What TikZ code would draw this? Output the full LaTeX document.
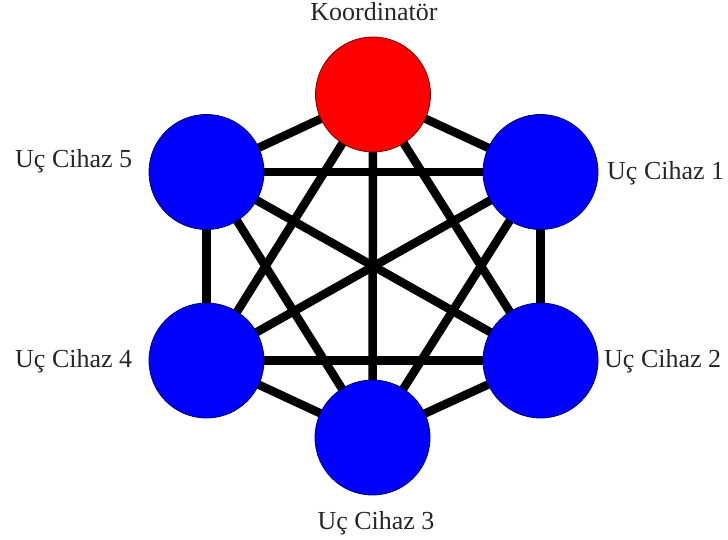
\documentclass[tikz,border=0pt]{standalone}
\usepackage{fontspec}
\setmainfont{Liberation Serif}
\begin{document}
\begin{tikzpicture}[x=1pt,y=-1pt,
  dev/.style={circle,minimum size=115pt,inner sep=0pt,line width=0.8pt},
  coord/.style={dev,fill={rgb,255:red,255;green,0;blue,0},draw={rgb,255:red,120;green,0;blue,0}},
  enddev/.style={dev,fill={rgb,255:red,0;green,0;blue,255},draw={rgb,255:red,0;green,0;blue,90}},
  link/.style={line width=8.5pt,black},
  lbl/.style={inner sep=0pt,font=\fontsize{26}{30}\selectfont,text=black!85}]
  \useasboundingbox (0,0) rectangle (728,540);
  % device positions
  \coordinate (pk) at (373,94.5);
  \coordinate (p1) at (540.5,172);
  \coordinate (p2) at (540.5,360.5);
  \coordinate (p3) at (372.5,437.5);
  \coordinate (p4) at (206.5,360.5);
  \coordinate (p5) at (206.5,172);
  % full mesh of links
  \foreach \a/\b in {pk/p1,pk/p2,pk/p3,pk/p4,pk/p5,
                     p1/p2,p1/p3,p1/p4,p1/p5,
                     p2/p3,p2/p4,p2/p5,
                     p3/p4,p3/p5,
                     p4/p5}
    \draw[link] (\a) -- (\b);
  % devices
  \node[coord]   (k)  at (pk) {};
  \node[enddev]  (u1) at (p1) {};
  \node[enddev]  (u2) at (p2) {};
  \node[enddev]  (u3) at (p3) {};
  \node[enddev]  (u4) at (p4) {};
  \node[enddev]  (u5) at (p5) {};
  % labels
  \node[lbl,anchor=base] (lk) at (374,21) {Koordinatör};
  \node[lbl,anchor=base west] (l1) at (607,180) {Uç Cihaz 1};
  \node[lbl,anchor=base west] (l2) at (604,367) {Uç Cihaz 2};
  \node[lbl,anchor=base] (l3) at (376,529) {Uç Cihaz 3};
  \node[lbl,anchor=base west] (l4) at (15,367) {Uç Cihaz 4};
  \node[lbl,anchor=base west] (l5) at (15,168) {Uç Cihaz 5};
\end{tikzpicture}
\end{document}
